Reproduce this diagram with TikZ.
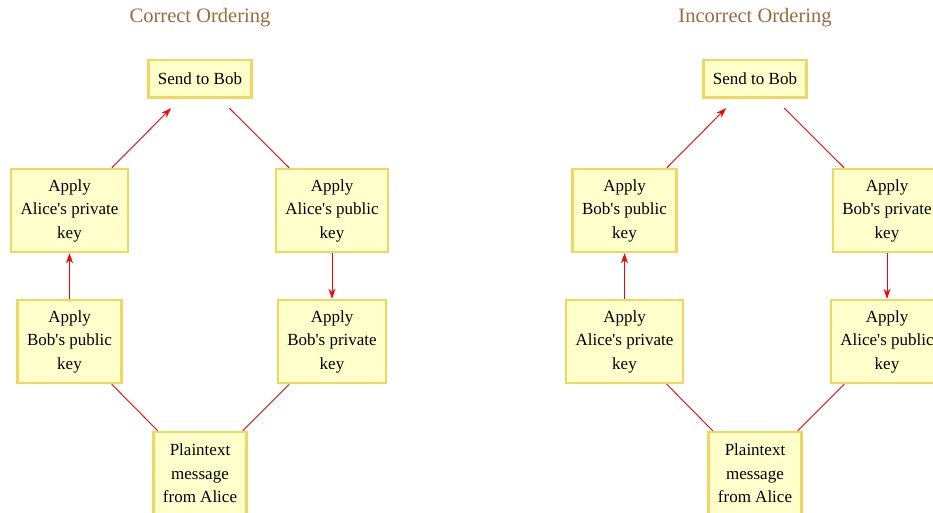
\documentclass[tikz,border=0pt]{standalone}
\usepackage{fontspec}
\newfontfamily\boxfont{Liberation Serif}
\usetikzlibrary{arrows.meta}
\definecolor{boxfill}{RGB}{255,255,204}
\definecolor{boxline}{RGB}{240,216,96}
\definecolor{titlebrown}{RGB}{156,106,60}
\tikzset{
  keybox/.style={draw=boxline,fill=boxfill,line width=2.5pt,align=center,
    inner xsep=9.5pt,minimum height=83pt,font=\boxfont\fontsize{17}{23.5}\selectfont},
  sendbox/.style={keybox,minimum height=37.5pt},
  heading/.style={text=titlebrown,font=\boxfont\fontsize{20.5}{24}\selectfont},
  link/.style={red,line width=0.9pt},
  flow/.style={link,-{Stealth[length=10pt,width=7pt]}},
}
\begin{document}
\begin{tikzpicture}[x=1pt,y=-1pt]
  \clip (0,0) rectangle (933,513);
  % sign first, then encrypt
  \node[heading] (okTitle) at (200,17.5) {Correct Ordering};
  \node[sendbox] (okSend) at (200,79) {Send to Bob};
  \node[keybox] (okAlicePriv) at (69.5,210.5) {Apply\\Alice's private\\key};
  \node[keybox] (okAlicePub) at (332,210.5) {Apply\\Alice's public\\key};
  \node[keybox] (okBobPub) at (69.5,341.5) {Apply\\Bob's public\\key};
  \node[keybox] (okBobPriv) at (332,341.5) {Apply\\Bob's private\\key};
  \node[keybox] (okPlain) at (200,473.5) {Plaintext\\message\\from Alice};
  \draw[link] (okPlain) -- (okBobPub);
  \draw[flow] (okBobPub) -- (okAlicePriv);
  \draw[flow,shorten >=13pt] (okAlicePriv) -- (okSend);
  \draw[link,shorten <=13pt] (okSend) -- (okAlicePub);
  \draw[flow] (okAlicePub) -- (okBobPriv);
  \draw[link] (okBobPriv) -- (okPlain);
  % encrypt first, then sign
  \begin{scope}[xshift=555]
    \node[heading] (badTitle) at (200,17.5) {Incorrect Ordering};
    \node[sendbox] (badSend) at (200,79) {Send to Bob};
    \node[keybox] (badBobPub) at (69.5,210.5) {Apply\\Bob's public\\key};
    \node[keybox] (badBobPriv) at (332,210.5) {Apply\\Bob's private\\key};
    \node[keybox] (badAlicePriv) at (69.5,341.5) {Apply\\Alice's private\\key};
    \node[keybox] (badAlicePub) at (332,341.5) {Apply\\Alice's public\\key};
    \node[keybox] (badPlain) at (200,473.5) {Plaintext\\message\\from Alice};
    \draw[link] (badPlain) -- (badAlicePriv);
    \draw[flow] (badAlicePriv) -- (badBobPub);
    \draw[flow,shorten >=13pt] (badBobPub) -- (badSend);
    \draw[link,shorten <=13pt] (badSend) -- (badBobPriv);
    \draw[flow] (badBobPriv) -- (badAlicePub);
    \draw[link] (badAlicePub) -- (badPlain);
  \end{scope}
\end{tikzpicture}
\end{document}
